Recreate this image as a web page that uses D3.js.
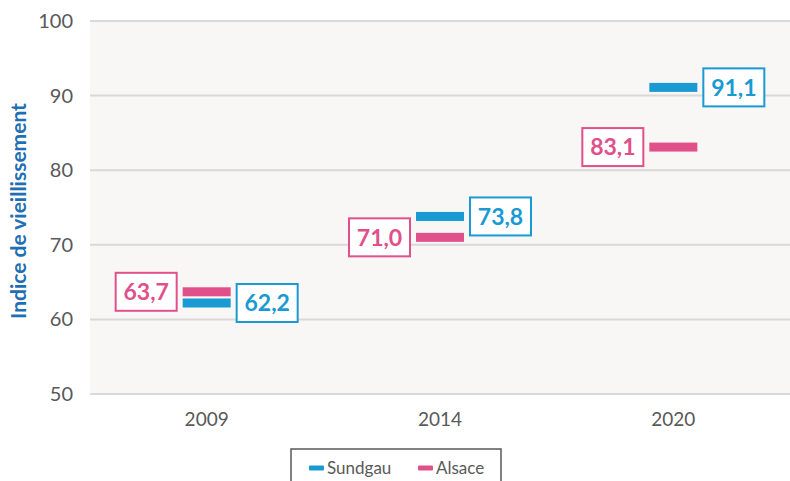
<!DOCTYPE html>
<html>
<head>
<meta charset="utf-8">
<script src="https://cdn.jsdelivr.net/npm/d3@7"></script>
<style>
  body { margin: 0; background: #fff; }
  svg { display: block; font-family: Lato, "Open Sans", sans-serif; }
</style>
</head>
<body>
<div id="chart"></div>
<script>
(function() {
    var years = ["2009", "2014", "2020"];
    var sundgau = [62.2, 73.8, 91.1];
    var alsace = [63.7, 71.0, 83.1];
    var yTicks = [50, 60, 70, 80, 90, 100];
    var seriesNames = ["Sundgau", "Alsace"];

    var blue = "#1a9ad2", pink = "#e0508a";

    var W = 790, H = 481;
    var margin = {top: 21, right: 0, bottom: 87, left: 90},
        width = W - margin.left - margin.right,
        height = H - margin.top - margin.bottom;

    var svg = d3.select("#chart")
        .append("svg")
            .attr("width", W)
            .attr("height", H);

    var g = svg.append("g")
        .attr("transform", "translate(" + margin.left + "," + margin.top + ")");

    var x = d3.scaleBand().domain(years).range([0, width]);
    var y = d3.scaleLinear().domain([50, 100]).range([height, 0]);

    // plot background
    g.append("rect")
        .attr("x", 0).attr("y", 0)
        .attr("width", width).attr("height", height)
        .style("fill", "#f8f7f6");

    // grid
    g.selectAll(".grid")
        .data(yTicks)
        .enter()
        .append("line")
            .attr("x1", 0).attr("x2", width)
            .attr("y1", function(d) { return y(d); })
            .attr("y2", function(d) { return y(d); })
            .style("stroke", "#d9d9d9")
            .style("stroke-width", 2);

    // y axis
    var yAxis = g.append("g")
        .call(d3.axisLeft(y).tickValues(yTicks).tickSize(0).tickPadding(17));
    yAxis.select(".domain").remove();
    yAxis.selectAll("text")
        .style("font-size", "20px")
        .style("fill", "#595959")
        .style("font-family", "Lato, sans-serif");

    // x axis
    var xAxis = g.append("g")
        .attr("transform", "translate(0," + height + ")")
        .call(d3.axisBottom(x).tickSize(0).tickPadding(19));
    xAxis.select(".domain").remove();
    xAxis.selectAll("text")
        .style("font-size", "19px")
        .style("fill", "#595959")
        .style("font-family", "Lato, sans-serif");

    // y title
    svg.append("text")
        .attr("transform", "translate(26,211) rotate(-90)")
        .attr("text-anchor", "middle")
        .style("font-size", "21px")
        .style("font-weight", "bold")
        .style("fill", "#1f6fb2")
        .text("Indice de vieillissement");

    var markW = 48, markH = 9;

    function drawSeries(values, color, side) {
        var grp = g.append("g");
        var items = grp.selectAll("g")
            .data(values)
            .enter()
            .append("g")
                .attr("transform", function(d, i) {
                    return "translate(" + (x(years[i]) + x.bandwidth() / 2) + "," + y(d) + ")";
                });

        items.append("rect")
            .attr("x", -markW / 2)
            .attr("y", -markH / 2)
            .attr("width", markW)
            .attr("height", markH)
            .style("fill", color);

        var boxW = 61, boxH = 38;
        var bx = side > 0 ? markW / 2 + 6 : -markW / 2 - 6 - boxW;

        items.append("rect")
            .attr("x", bx)
            .attr("y", -boxH / 2)
            .attr("width", boxW)
            .attr("height", boxH)
            .style("fill", "#fff")
            .style("stroke", color)
            .style("stroke-width", 2);

        items.append("text")
            .attr("x", bx + boxW / 2)
            .attr("y", 0)
            .attr("dy", "0.36em")
            .attr("text-anchor", "middle")
            .style("font-size", "23px")
            .style("font-weight", "bold")
            .style("fill", color)
            .text(function(d) { return d.toFixed(1).replace(".", ","); });
    }

    drawSeries(sundgau, blue, 1);
    drawSeries(alsace, pink, -1);

    // legend
    var legend = svg.append("g")
        .attr("transform", "translate(291,449)");
    legend.append("rect")
        .attr("x", 0).attr("y", 0)
        .attr("width", 210).attr("height", 40)
        .style("fill", "#fff")
        .style("stroke", "#595959")
        .style("stroke-width", 1.5);

    var legItems = legend.selectAll(".item")
        .data(seriesNames)
        .enter()
        .append("g")
            .attr("transform", function(d, i) {
                return "translate(" + (18 + i * 109) + ",19)";
            });
    legItems.append("rect")
        .attr("x", 0).attr("y", -2.5)
        .attr("width", 15).attr("height", 5)
        .attr("rx", 1)
        .style("fill", function(d, i) { return i === 0 ? blue : pink; });
    legItems.append("text")
        .attr("x", 18)
        .attr("dy", "0.36em")
        .style("font-size", "17px")
        .style("fill", "#595959")
        .text(function(d) { return d; });
})()
</script>
</body>
</html>
